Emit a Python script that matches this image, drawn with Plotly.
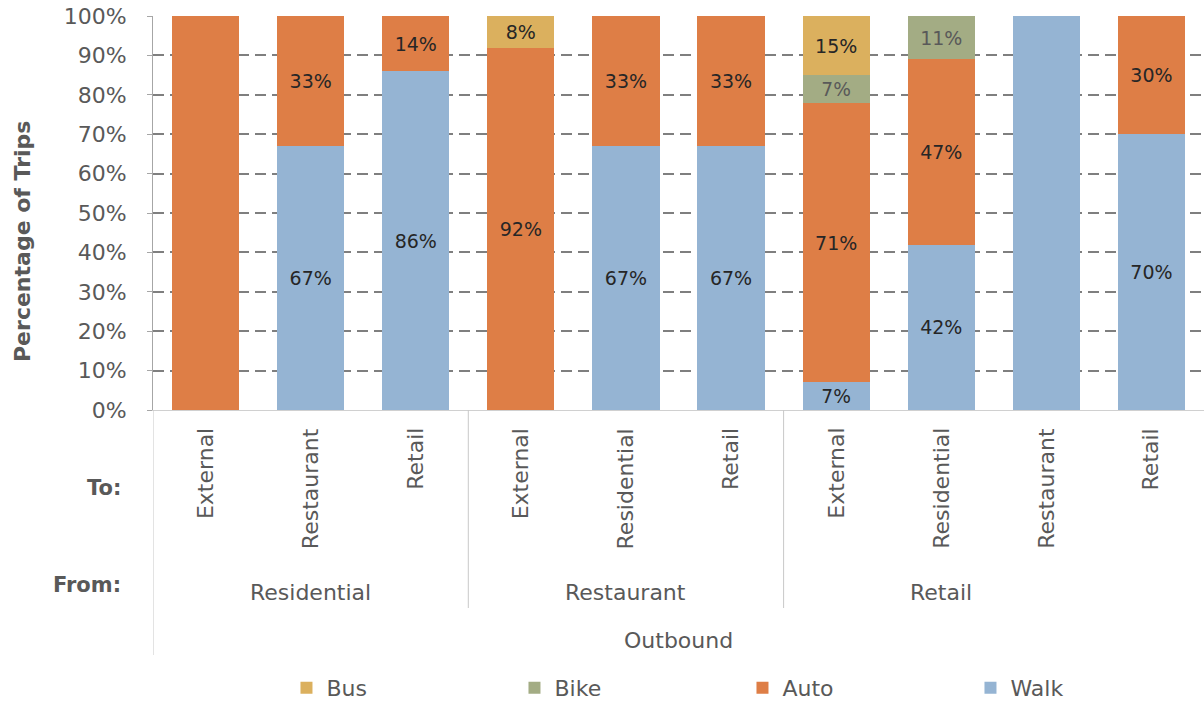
import plotly.graph_objects as go

# ---- data ----
to_labels = ["External", "Restaurant", "Retail",
             "External", "Residential", "Retail",
             "External", "Residential", "Restaurant", "Retail"]
from_labels = ["Residential", "Restaurant", "Retail"]
from_centers = [1, 4, 7]
direction = "Outbound"

walk = [0, 67, 86, 0, 67, 67, 7, 42, 100, 70]
auto = [100, 33, 14, 92, 33, 33, 71, 47, 0, 30]
bike = [0, 0, 0, 0, 0, 0, 7, 11, 0, 0]
bus = [0, 0, 0, 8, 0, 0, 15, 0, 0, 0]

walk_txt = ["", "67%", "86%", "", "67%", "67%", "7%", "42%", "", "70%"]
auto_txt = ["", "33%", "14%", "92%", "33%", "33%", "71%", "47%", "", "30%"]
bike_txt = ["", "", "", "", "", "", "7%", "11%", "", ""]
bus_txt = ["", "", "", "8%", "", "", "15%", "", "", ""]

colors = {"Walk": "#95b4d3", "Auto": "#de7e46", "Bike": "#a3ac84", "Bus": "#dbb05e"}
FONT = "DejaVu Sans"
GREY = "#595959"
x = list(range(len(to_labels)))

fig = go.Figure()
for name, vals, txt, tcol in [("Walk", walk, walk_txt, "#262626"),
                              ("Auto", auto, auto_txt, "#262626"),
                              ("Bike", bike, bike_txt, "#595959"),
                              ("Bus", bus, bus_txt, "#262626")]:
    fig.add_trace(go.Bar(
        x=x, y=vals, name=name, text=txt,
        marker=dict(color=colors[name], line=dict(width=0)),
        width=0.64,
        textposition="inside", insidetextanchor="middle", textangle=0,
        insidetextfont=dict(family=FONT, size=19, color=tcol),
        hoverinfo="skip",
    ))

fig.update_layout(
    barmode="stack",
    width=1204, height=704,
    margin=dict(l=153, r=0, t=16, b=294),
    plot_bgcolor="white", paper_bgcolor="white",
    font=dict(family=FONT, color=GREY),
    showlegend=True,
    legend=dict(orientation="h", traceorder="reversed",
                xref="paper", yref="container",
                x=0.127, xanchor="left", y=1 - 688 / 704, yanchor="middle",
                font=dict(family=FONT, size=22, color=GREY),
                entrywidth=183, itemwidth=30, bgcolor="rgba(0,0,0,0)"),
    xaxis=dict(range=[-0.5, 9.5], showticklabels=False, showgrid=False,
               zeroline=False, showline=True, linecolor="#d0d0d0", linewidth=1,
               ticks=""),
    yaxis=dict(range=[0, 100], tickvals=list(range(0, 101, 10)),
               ticktext=[f"{v}%" for v in range(0, 101, 10)],
               tickfont=dict(family=FONT, size=22, color=GREY),
               showgrid=True, gridcolor="#7f7f7f", gridwidth=2, griddash="11px,6px",
               zeroline=False, showline=True, linecolor="#a6a6a6", linewidth=1,
               ticks="outside", ticklen=5, tickcolor="#a6a6a6",
               ticklabelstandoff=16),
)

def py(px):
    return (410 - px) / 394.0

ann = []
for i, lab in enumerate(to_labels):
    ann.append(dict(x=i, y=py(426), xref="x", yref="paper", text=lab,
                    textangle=-90, xanchor="center", yanchor="top", showarrow=False,
                    font=dict(family=FONT, size=22, color=GREY)))
for c, lab in zip(from_centers, from_labels):
    ann.append(dict(x=c, y=py(592), xref="x", yref="paper", text=lab,
                    xanchor="center", yanchor="middle", showarrow=False,
                    font=dict(family=FONT, size=22, color=GREY)))
ann.append(dict(x=4.5, y=py(640), xref="x", yref="paper", text=direction,
                xanchor="center", yanchor="middle", showarrow=False,
                font=dict(family=FONT, size=22, color=GREY)))
ann.append(dict(x=(123 - 153) / 1051, y=py(488), xref="paper", yref="paper", text="<b>To:</b>",
                xanchor="right", yanchor="middle", showarrow=False,
                font=dict(family=FONT, size=21, color=GREY)))
ann.append(dict(x=(123 - 153) / 1051, y=py(585), xref="paper", yref="paper", text="<b>From:</b>",
                xanchor="right", yanchor="middle", showarrow=False,
                font=dict(family=FONT, size=21, color=GREY)))
ann.append(dict(x=(22 - 153) / 1051, y=py(242), xref="paper", yref="paper",
                text="<b>Percentage of Trips</b>", textangle=-90,
                xanchor="center", yanchor="middle", showarrow=False,
                font=dict(family=FONT, size=22, color=GREY)))
fig.update_layout(annotations=ann)

shapes = [dict(type="line", xref="x", yref="paper", x0=-0.5, x1=-0.5, y0=0, y1=py(655),
               line=dict(color="#c8c8c8", width=1))]
for xs in [2.5, 5.5]:
    shapes.append(dict(type="line", xref="x", yref="paper", x0=xs, x1=xs, y0=0, y1=py(608),
                       line=dict(color="#c8c8c8", width=1)))
fig.update_layout(shapes=shapes)

fig.write_html("out.html")
